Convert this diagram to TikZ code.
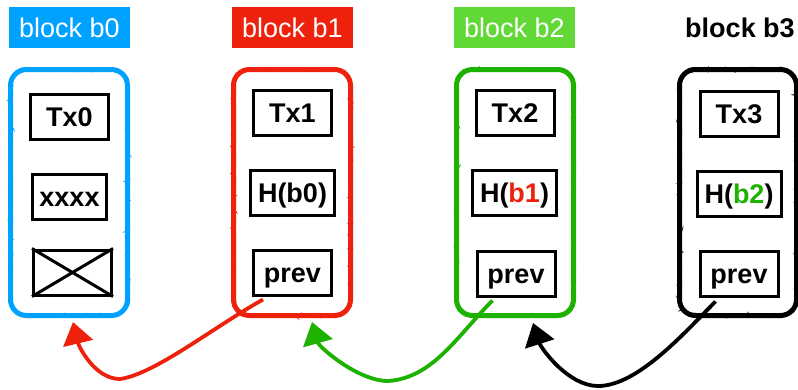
\documentclass[tikz,border=0pt]{standalone}
\usepackage{fontspec}
\setmainfont{Liberation Sans}
\usetikzlibrary{calc, arrows.meta, decorations.pathmorphing}
\definecolor{bblue}{RGB}{0,162,255}
\definecolor{bred}{RGB}{238,34,12}
\definecolor{bgreen}{RGB}{97,216,54}
\definecolor{dgreen}{RGB}{29,177,0}

\begin{document}
\begin{tikzpicture}[x=1pt, y=-1pt,
    font=\fontsize{27}{32}\selectfont,
    tag/.style={fill=#1, text=white, minimum width=121pt, minimum height=41pt,
        inner sep=0pt, text height=19pt, text depth=0pt},
    frame/.style={draw=#1, line width=5pt, rounded corners=16pt,
        minimum width=117pt, minimum height=246pt,
        postaction={draw=#1, line width=1.6pt, sharp corners, decorate,
            decoration={random steps, segment length=2pt, amplitude=1.8pt}}},
    field/.style={draw, line width=3pt, minimum width=78pt, minimum height=45pt,
        inner sep=0pt, text height=19pt, text depth=0pt,
        font=\fontsize{27}{32}\selectfont\bfseries},
    link/.style={draw=#1, line width=3.8pt, -{Triangle[length=22pt, width=30pt]}}]
    \useasboundingbox (0,0) rectangle (798,389);

    % block titles
    \node[tag=bblue] (t0) at (69.5,27.5) {block b0};
    \node[tag=bred] (t1) at (292.5,27.5) {block b1};
    \node[tag=bgreen] (t2) at (514.5,27.5) {block b2};
    \node[font=\fontsize{27}{32}\selectfont\bfseries, text height=19pt, text depth=0pt] (t3) at (740,27.5) {block b3};

    % hand drawn frames
    \node[frame=bblue] (f0) at (69,192.5) {};
    \node[frame=bred] (f1) at (292,192.5) {};
    \node[frame=dgreen] (f2) at (515,192.5) {};
    \node[frame=black] (f3) at (738,192.5) {};

    % b0 (genesis)
    \node[field] (a0) at (69.5,117) {Tx0};
    \node[field, minimum width=74pt] (h0) at (69.5,197) {xxxx};
    \node[field] (p0) at (72.5,272.5) {};
    \draw[line width=3pt] (p0.north west) -- (p0.south east) (p0.south west) -- (p0.north east);

    % b1
    \node[field] (a1) at (292.5,113) {Tx1};
    \node[field, minimum width=84pt] (h1) at (292.5,193) {H(b0)};
    \node[field] (p1) at (292.5,272.5) {prev};

    % b2
    \node[field] (a2) at (515,113) {Tx2};
    \node[field, minimum width=84pt] (h2) at (514.5,193) {H(\textcolor{bred}{b1})};
    \node[field] (p2) at (516,273.5) {prev};

    % b3
    \node[field] (a3) at (739,114) {Tx3};
    \node[field, minimum width=84pt] (h3) at (739,194) {H(\textcolor{dgreen}{b2})};
    \node[field] (p3) at (739,273.5) {prev};

    % prev pointers back to the parent block
    \draw[link=bred] ($(p1.south west)+(11,3)$) .. controls +(-50,28) and +(35,-5) .. (120,379)
        .. controls +(-25,0) and +(6,25) .. ($(f0.south)+(4,4)$);
    \draw[link=dgreen] ($(p2.south west)+(17,3)$) .. controls +(-35,35) and +(45,-3) .. (388,381)
        .. controls +(-30,0) and +(7,25) .. ($(f1.south)+(20,4)$);
    \draw[link=black] ($(p3.south west)+(17,4)$) .. controls +(-30,30) and +(40,0) .. (598,386)
        .. controls +(-30,0) and +(8,25) .. ($(f2.south)+(18,5)$);
\end{tikzpicture}
\end{document}
